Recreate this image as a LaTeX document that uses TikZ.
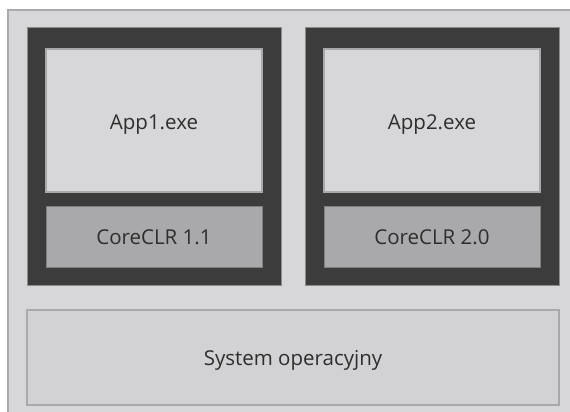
\documentclass[tikz,border=0pt]{standalone}
\usepackage{fontspec}
\setmainfont{Open Sans}
\definecolor{bgl}{HTML}{D7D7D9}
\definecolor{frm}{HTML}{A9A9AB}
\definecolor{drk}{HTML}{3C3C3C}
\definecolor{clr}{HTML}{A9A9AB}
\definecolor{sysf}{HTML}{D2D2D4}
\definecolor{txt}{HTML}{2E2E2E}
\begin{document}
\begin{tikzpicture}[x=1pt,y=-1pt,
  lbl/.style={font=\fontsize{20.5}{24}\selectfont, text=txt},
  appbox/.style={draw=frm, fill=bgl, line width=2pt, minimum width=216, minimum height=143, inner sep=0, text depth=1pt, text height=18pt},
  clrbox/.style={draw=black!50, fill=clr, line width=1pt, minimum width=216, minimum height=61, inner sep=0, anchor=north, lbl},
  sysbox/.style={draw=frm, fill=sysf, line width=2pt, minimum width=532, minimum height=95, inner sep=0, anchor=north, lbl, text depth=2pt, text height=18pt}]
\useasboundingbox (0,0) rectangle (570,412);
\fill[white] (0,0) rectangle (570,412);
\draw[frm, fill=bgl, line width=2pt] (8,10) rectangle (575,420);
% dark containers
\draw[black!45, fill=drk, line width=1pt] (27,28) rectangle (281,285);
\draw[black!45, fill=drk, line width=1pt] (305,28) rectangle (559,285);
% app boxes
\node[appbox, lbl] (app1) at (154,120.5) {App1.exe};
\node[appbox, lbl] (app2) at (432,120.5) {App2.exe};
% CoreCLR boxes
\node[clrbox] (clr1) at (154,206) {CoreCLR 1.1};
\node[clrbox] (clr2) at (432,206) {CoreCLR 2.0};
% system
\node[sysbox] (sys) at (293,309) {System operacyjny};
\end{tikzpicture}
\end{document}
